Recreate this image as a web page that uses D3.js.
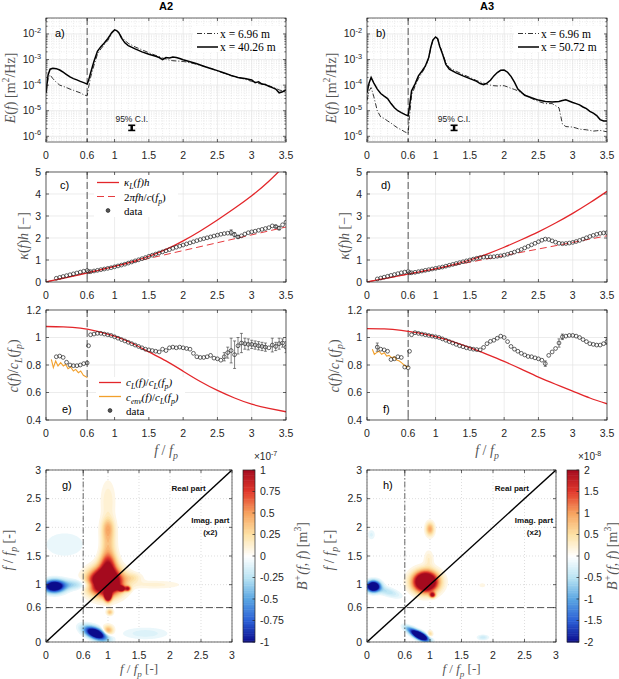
<!DOCTYPE html>
<html><head><meta charset="utf-8">
<script src="https://cdn.jsdelivr.net/npm/d3@7"></script>
<style>
body{margin:0;background:#fff}
svg{display:block;font-family:"Liberation Sans",Arial,sans-serif}
</style></head><body>
<svg id="fig" width="619" height="679"></svg>
<script>
// ---------- data ----------
var specF = [0,0.03,0.06,0.1,0.15,0.2,0.25,0.3,0.35,0.4,0.45,0.5,0.55,0.6,0.62,0.65,0.7,0.75,0.8,0.85,0.9,0.93,0.96,1.0,1.03,1.06,1.1,1.15,1.2,1.3,1.4,1.5,1.6,1.65,1.7,1.75,1.8,1.85,1.9,1.95,2.0,2.05,2.1,2.15,2.2,2.3,2.4,2.5,2.6,2.7,2.8,2.85,2.9,3.0,3.05,3.1,3.15,3.2,3.25,3.3,3.35,3.4,3.45,3.5];
var eA2near = [5e-5,1.8e-4,2.5e-4,1.8e-4,1.3e-4,1.0e-4,9e-5,8e-5,7e-5,6.3e-5,5.6e-5,5e-5,4.2e-5,3.8e-5,8e-5,2e-4,6e-4,1.6e-3,2.6e-3,3.8e-3,5.5e-3,7.5e-3,1.05e-2,1.35e-2,1.3e-2,1.1e-2,8e-3,5.5e-3,4.3e-3,3.1e-3,2.4e-3,1.85e-3,1.45e-3,1.3e-3,1.15e-3,1.05e-3,9.5e-4,9e-4,8.8e-4,8.6e-4,8.4e-4,8e-4,7.5e-4,7e-4,6.5e-4,5.5e-4,4.6e-4,3.6e-4,2.9e-4,2.3e-4,2e-4,1.85e-4,1.7e-4,1.4e-4,1.3e-4,1.15e-4,1.1e-4,1.0e-4,9.5e-5,8.5e-5,7.5e-5,6.5e-5,6e-5,5.5e-5];
var eA2far = [5e-5,2.5e-4,4.2e-4,4.6e-4,4.4e-4,3.9e-4,3.2e-4,2.6e-4,2.1e-4,1.8e-4,1.6e-4,1.4e-4,1.25e-4,1.1e-4,1.5e-4,3e-4,8.5e-4,2.1e-3,3.2e-3,4.4e-3,6.5e-3,8.5e-3,1.15e-2,1.45e-2,1.35e-2,1.15e-2,7e-3,4.5e-3,3.5e-3,2.6e-3,2.0e-3,1.6e-3,1.35e-3,1.2e-3,1.0e-3,1.2e-3,1.15e-3,1.25e-3,1.2e-3,1.1e-3,9.8e-4,9e-4,8.2e-4,7.5e-4,6.8e-4,5.5e-4,4.5e-4,3.7e-4,3.0e-4,2.4e-4,2.0e-4,1.9e-4,1.8e-4,1.6e-4,1.25e-4,1.35e-4,1.1e-4,1.05e-4,9e-5,8e-5,7e-5,5e-5,5.5e-5,6.5e-5];
var eA3near = [2.5e-5,6e-5,8e-5,3.5e-5,1e-5,5.7e-6,5e-6,4e-6,3.3e-6,2.6e-6,2.1e-6,1.8e-6,1.5e-6,1.3e-6,6e-6,4e-5,9e-5,1.8e-4,3e-4,5e-4,1.1e-3,2.8e-3,5.5e-3,7.5e-3,6.5e-3,3.5e-3,1.8e-3,7.5e-4,4.8e-4,3.5e-4,2.6e-4,2e-4,1.5e-4,1.35e-4,1.2e-4,1.1e-4,1e-4,9.5e-5,9.3e-5,9.5e-5,9.5e-5,8.5e-5,7.5e-5,6.8e-5,6e-5,4.2e-5,3e-5,2.3e-5,1.9e-5,1.9e-5,1.3e-5,3e-6,2.4e-6,2.3e-6,2.1e-6,1.9e-6,1.85e-6,1.8e-6,1.7e-6,1.6e-6,1.65e-6,1.7e-6,1.6e-6,1.5e-6];
var eA3far = [5e-5,1.2e-4,2e-4,1.2e-4,7e-5,4.7e-5,3.7e-5,3e-5,1.9e-5,1.3e-5,1e-5,8.4e-6,7.2e-6,6.3e-6,1.5e-5,6e-5,1.1e-4,2.3e-4,3.5e-4,5.5e-4,1.2e-3,3e-3,5.8e-3,7.6e-3,6.5e-3,3.3e-3,1.7e-3,6.5e-4,4.2e-4,3e-4,2.3e-4,1.8e-4,1.4e-4,1.15e-4,1.05e-4,1.2e-4,1.55e-4,2.3e-4,3.1e-4,3.8e-4,3.9e-4,3.2e-4,2.2e-4,1.3e-4,7e-5,4e-5,3.2e-5,2.6e-5,2.3e-5,2.2e-5,2.3e-5,2.5e-5,2.7e-5,2.1e-5,1.9e-5,1.7e-5,1.4e-5,1.2e-5,9.5e-6,8e-6,6.5e-6,4.5e-6,4e-6,4e-6];

// smooth curves sampled every 0.25 in f/fp
var curveF = [0,0.25,0.5,0.75,1,1.25,1.5,1.75,2,2.25,2.5,2.75,3,3.25,3.5];
var kapLA2 = [0,0.17,0.34,0.52,0.71,0.92,1.17,1.48,1.87,2.32,2.82,3.35,3.92,4.58,5.35];
var kapLA3 = [0,0.15,0.3,0.45,0.6,0.78,1.0,1.27,1.58,1.92,2.28,2.68,3.12,3.6,4.12];
var cLA2 = [1.08,1.077,1.068,1.045,1.01,0.96,0.895,0.83,0.755,0.68,0.615,0.56,0.515,0.485,0.46];
var cLA3 = [1.064,1.062,1.052,1.033,1.006,0.97,0.926,0.877,0.826,0.77,0.712,0.66,0.61,0.56,0.518];
var lineF = [0, 3.5];
var kapCA2 = [0, 2.5];
var kapCA3 = [0, 2.1];

// measured points: below 0.6 and above 0.6
var lowF = d3.range(0.15, 0.601, 0.05);
var highF = [0.62].concat(d3.range(0.65, 3.501, 0.05));
var kapA2Low = [0.17,0.21,0.25,0.29,0.33,0.37,0.41,0.45,0.49,0.52];
var kapA2High = [0.47,0.47,0.5,0.53,0.56,0.59,0.62,0.65,0.69,0.73,0.77,0.81,0.86,0.91,0.96,1.01,1.06,1.11,1.17,1.22,1.27,1.32,1.37,1.42,1.47,1.53,1.58,1.63,1.68,1.73,1.78,1.83,1.88,1.93,1.97,2.01,2.05,2.09,2.13,2.17,2.2,2.22,2.25,2.15,2.05,2.1,2.18,2.24,2.28,2.31,2.35,2.39,2.43,2.47,2.55,2.52,2.45,2.6,2.72];
var kapA3Low = [0.14,0.18,0.22,0.26,0.3,0.34,0.38,0.42,0.45,0.48];
var kapA3High = [0.42,0.42,0.44,0.47,0.5,0.53,0.56,0.59,0.62,0.65,0.68,0.72,0.76,0.8,0.84,0.88,0.92,0.96,1.0,1.04,1.08,1.11,1.13,1.14,1.14,1.15,1.17,1.19,1.22,1.26,1.31,1.36,1.42,1.48,1.55,1.62,1.69,1.76,1.83,1.9,1.95,1.93,1.87,1.81,1.76,1.74,1.75,1.77,1.8,1.84,1.89,1.95,2.01,2.07,2.12,2.17,2.21,2.23,2.24];
var cA2Low = [0.86,0.865,0.855,0.82,0.8,0.795,0.795,0.8,0.81,0.815];
var cA2High = [0.94,1.02,1.025,1.03,1.03,1.025,1.02,1.015,1.005,0.995,0.985,0.975,0.965,0.955,0.945,0.935,0.925,0.915,0.91,0.905,0.9,0.895,0.915,0.905,0.925,0.93,0.925,0.93,0.925,0.92,0.915,0.885,0.86,0.855,0.855,0.86,0.87,0.85,0.845,0.835,0.86,0.89,0.905,0.875,0.94,0.96,0.955,0.95,0.95,0.945,0.94,0.935,0.93,0.925,0.945,0.935,0.955,0.96,0.93];
var cA3Low = [0.93,0.915,0.91,0.9,0.84,0.845,0.86,0.855,0.785,0.78];
var cA3High = [0.9,1.02,1.035,1.03,1.025,1.02,1.015,1.01,1.005,1.0,0.99,0.98,0.97,0.96,0.95,0.94,0.933,0.925,0.92,0.915,0.912,0.91,0.928,0.955,0.972,0.98,0.995,1.01,1.0,0.97,0.935,0.915,0.9,0.885,0.873,0.862,0.86,0.852,0.845,0.835,0.81,0.87,0.895,0.92,0.96,1.005,1.01,1.015,1.015,1.01,1.0,0.985,0.97,0.955,0.95,0.945,0.945,0.955,0.97];
// error bars: [f, half-width]
var errKapA2 = [[2.7,0.12],[2.75,0.1],[2.8,0.06],[3.35,0.06],[3.4,0.08]];
var errCA2 = [[2.6,0.03],[2.65,0.04],[2.7,0.09],[2.75,0.1],[2.8,0.06],[2.85,0.07],[2.9,0.04],[2.95,0.04],[3.0,0.03],[3.05,0.03],[3.1,0.03],[3.15,0.03],[3.2,0.03],[3.3,0.05],[3.35,0.03],[3.4,0.04],[3.45,0.03],[3.5,0.04]];
var errCA3Low = [[0.15,0.03]];
var errCA3 = [[2.6,0.02],[2.8,0.03],[2.85,0.02],[3.5,0.02]];
// envelope speed below 0.6 fp
var envFA2 = [0.078,0.107,0.141,0.175,0.214,0.253,0.287,0.321,0.36,0.399,0.433,0.472,0.506,0.545,0.583,0.603];
var envA2 = [0.841,0.781,0.829,0.793,0.817,0.793,0.805,0.773,0.785,0.756,0.768,0.744,0.756,0.725,0.715,0.708];
var envFA3 = [0.078,0.107,0.141,0.175,0.214,0.253,0.287,0.321,0.36,0.399,0.433,0.472,0.506,0.545,0.583,0.603];
var envA3 = [0.914,0.878,0.89,0.9,0.878,0.89,0.865,0.87,0.853,0.86,0.836,0.829,0.815,0.798,0.785,0.79];

// bispectrum features: [fx, fy, amplitude (colorbar units), sx, sy, angle deg]
var bisA2 = [
  [0.96,1.05,2.2,0.17,0.15,0],[1.0,1.35,0.8,0.09,0.15,0],[1.0,1.75,0.35,0.08,0.2,0],[1.0,2.0,0.3,0.07,0.12,0],
  [1.0,2.45,0.15,0.08,0.25,0],[1.1,0.98,1.3,0.035,0.035,0],[1.22,0.93,1.2,0.035,0.03,0],[1.32,0.93,0.9,0.03,0.03,0],
  [1.0,0.8,1.5,0.035,0.06,0],[0.93,0.93,-0.6,0.04,0.04,0],[1.03,0.52,0.4,0.035,0.035,0],[1.0,0.2,0.5,0.06,0.06,0],
  [1.4,1.12,0.2,0.1,0.06,0],[1.75,1.0,0.12,0.3,0.05,0],[0.13,0.97,-1.5,0.11,0.07,0],[0.42,1.0,-0.3,0.2,0.06,0],
  [0.75,1.0,-0.15,0.12,0.05,0],[0.3,1.7,-0.08,0.3,0.2,0],[0.8,0.15,-1.6,0.13,0.06,-25],[1.6,0.15,-0.14,0.25,0.07,0]
];
var bisA3 = [
  [0.93,1.05,2.0,0.13,0.12,0],[1.04,0.82,1.0,0.03,0.03,0],[1.0,1.97,0.5,0.045,0.08,0],[0.98,1.45,0.15,0.05,0.1,0],
  [1.0,0.14,0.3,0.03,0.04,0],[1.83,0.99,0.1,0.04,0.03,0],[0.1,0.97,-1.8,0.07,0.06,0],[0.32,0.88,-0.25,0.15,0.05,-20],
  [0.84,0.11,-2.0,0.1,0.04,-30],[0.68,0.22,-0.4,0.08,0.035,-30],[1.84,0.08,-0.2,0.06,0.03,0],[0.07,1.87,-0.12,0.04,0.06,0]
];

var xTicksA = [0,0.6,1,1.5,2,2.5,3,3.5];
var xTicksG = [0,0.6,1,1.5,2,2.5,3];
var cbTicksA2 = [-1,-0.75,-0.5,-0.25,0,0.25,0.5,0.75,1];
var cbTicksA3 = [-2,-1.5,-1,-0.5,0,0.5,1,1.5,2];
var cmapStops = ['#0b0b8c','#2b5fd6','#5aa5e2','#b9e4f3','#ffffff','#fde2a6','#f7a35f','#e2392c','#a50a1e'];

// ---------- drawing ----------
var svg = d3.select('#fig');
var ink = '#262626';
var serif = '"Liberation Serif","DejaVu Serif",serif';
var red = '#e3262a', orange = '#f2a02c';
var labFs = 14;
var clipN = 0;

function rich(t, str, fs) {
  var cur = 0, ital = false;
  str.split(/([_^]\{[^}]*\}|~)/).forEach(function(p) {
    if (!p) return;
    if (p === '~') { ital = !ital; return; }
    var m = p.match(/^([_^])\{([^}]*)\}$/);
    var target = m ? (m[1] === '_' ? 0.28 * fs : -0.42 * fs) : 0;
    var ts = t.append('tspan').attr('dy', target - cur).text(m ? m[2] : p)
      .attr('font-style', ital ? 'italic' : 'normal');
    if (m) ts.attr('font-size', fs * 0.7);
    cur = target;
  });
  return t;
}

function makeAxes(p) {
  var xs = d3.scaleLinear().domain(p.xdom).range([p.x0, p.x1]);
  var ys = (p.log ? d3.scaleLog() : d3.scaleLinear()).domain(p.ydom).range([p.y1, p.y0]);
  var root = svg.append('g');
  var grid = root.append('g').attr('fill', 'none');
  var minorStyle = function(s) { s.attr('stroke', '#dedede').attr('stroke-width', 0.6).attr('stroke-dasharray', '1,1.5'); };
  var majorStyle = function(s) {
    s.attr('stroke', p.dotGrid ? '#d0d0d0' : '#e4e4e4').attr('stroke-width', 0.7)
     .attr('stroke-dasharray', p.dotGrid ? '1,2' : null);
  };
  grid.selectAll('.mx').data(p.minorX || []).enter().append('line')
    .attr('x1', xs).attr('x2', xs).attr('y1', p.y0).attr('y2', p.y1).call(minorStyle);
  grid.selectAll('.my').data(p.minorY || []).enter().append('line')
    .attr('y1', ys).attr('y2', ys).attr('x1', p.x0).attr('x2', p.x1).call(minorStyle);
  grid.selectAll('.gx').data(p.xticks).enter().append('line')
    .attr('x1', xs).attr('x2', xs).attr('y1', p.y0).attr('y2', p.y1).call(majorStyle);
  grid.selectAll('.gy').data(p.yticks).enter().append('line')
    .attr('y1', ys).attr('y2', ys).attr('x1', p.x0).attr('x2', p.x1).call(majorStyle);

  var id = 'clip' + (clipN++);
  svg.append('clipPath').attr('id', id).append('rect')
    .attr('x', p.x0).attr('y', p.y0).attr('width', p.x1 - p.x0).attr('height', p.y1 - p.y0);
  var plot = root.append('g').attr('clip-path', 'url(#' + id + ')');
  var top = root.append('g');

  var frame = root.append('g').attr('stroke', ink).attr('stroke-width', 0.7).attr('fill', 'none');
  frame.append('rect').attr('x', p.x0).attr('y', p.y0).attr('width', p.x1 - p.x0).attr('height', p.y1 - p.y0);
  var tl = 3;
  p.xticks.forEach(function(v) {
    frame.append('line').attr('x1', xs(v)).attr('x2', xs(v)).attr('y1', p.y1).attr('y2', p.y1 - tl);
    frame.append('line').attr('x1', xs(v)).attr('x2', xs(v)).attr('y1', p.y0).attr('y2', p.y0 + tl);
  });
  p.yticks.forEach(function(v) {
    frame.append('line').attr('y1', ys(v)).attr('y2', ys(v)).attr('x1', p.x0).attr('x2', p.x0 + tl);
    frame.append('line').attr('y1', ys(v)).attr('y2', ys(v)).attr('x1', p.x1).attr('x2', p.x1 - tl);
  });
  (p.minorY || []).forEach(function(v) {
    frame.append('line').attr('y1', ys(v)).attr('y2', ys(v)).attr('x1', p.x0).attr('x2', p.x0 + 1.6);
    frame.append('line').attr('y1', ys(v)).attr('y2', ys(v)).attr('x1', p.x1).attr('x2', p.x1 - 1.6);
  });

  var labs = root.append('g').attr('fill', ink).attr('font-size', 10.5);
  labs.selectAll('.xl').data(p.xticks).enter().append('text')
    .attr('x', xs).attr('y', p.y1 + 17).attr('text-anchor', 'middle').text(function(d) { return String(d); });
  labs.selectAll('.yl').data(p.yticks).enter().append('text')
    .attr('x', p.x0 - 5).attr('y', function(d) { return ys(d) + 3.5; }).attr('text-anchor', 'end')
    .each(function(d) {
      var t = d3.select(this);
      if (p.log) rich(t, '10^{' + Math.round(Math.log10(d)) + '}', 10.5);
      else t.text(String(d));
    });
  if (p.ylabel) {
    var yl = root.append('text').attr('transform', 'translate(' + p.ylabel[1] + ',' + p.ylabel[2] + ') rotate(-90)')
      .attr('text-anchor', 'middle').attr('font-family', serif).attr('font-size', labFs).attr('fill', '#555');
    rich(yl, p.ylabel[0], labFs);
  }
  if (p.xlabel) {
    var xfs = p.xlabel[2] || labFs;
    var xl = root.append('text').attr('x', (p.x0 + p.x1) / 2).attr('y', p.xlabel[1])
      .attr('text-anchor', 'middle').attr('font-family', serif).attr('font-size', xfs).attr('fill', '#555');
    rich(xl, p.xlabel[0], xfs);
  }
  root.append('text').attr('x', p.tag[1]).attr('y', p.tag[2]).attr('font-size', 11).attr('fill', '#000').text(p.tag[0]);
  return {xs: xs, ys: ys, plot: plot, top: top, p: p};
}

function vline06(ax, dash) {
  ax.plot.append('line').attr('x1', ax.xs(0.6)).attr('x2', ax.xs(0.6))
    .attr('y1', ax.p.y0).attr('y2', ax.p.y1)
    .attr('stroke', '#555').attr('stroke-width', 1).attr('stroke-dasharray', dash || '7,3');
}

function pathOf(ax, xsArr, ysArr, curve) {
  return d3.line().x(function(d, i) { return ax.xs(xsArr[i]); }).y(function(d) { return ax.ys(d); })
    .curve(curve || d3.curveLinear)(ysArr);
}

var minorX = d3.range(1, 35).map(function(i) { return i / 10; }).filter(function(v) { return xTicksA.indexOf(v) < 0; });
var minorYLog = [];
[-7, -6, -5, -4, -3, -2].forEach(function(k) {
  d3.range(2, 10).forEach(function(m) {
    var v = m * Math.pow(10, k);
    if (v > 6e-7 && v < 4.2e-2) minorYLog.push(v);
  });
});

function specPanel(x0, near, far, farLabel, tag, title, ciF, ylx) {
  var ax = makeAxes({x0: x0, x1: x0 + 240, y0: 18, y1: 142, xdom: [0, 3.5], ydom: [6e-7, 4.2e-2], log: true,
    xticks: xTicksA, yticks: [1e-6, 1e-5, 1e-4, 1e-3, 1e-2], minorX: minorX, minorY: minorYLog,
    ylabel: ['~E~(~f~) [m^{2}/Hz]', ylx, 88], tag: [tag, x0 + 9, 37]});
  svg.append('text').attr('x', x0 + 120).attr('y', 10).attr('text-anchor', 'middle')
    .attr('font-weight', 'bold').attr('font-size', 11).text(title);
  vline06(ax);
  ax.plot.append('path').attr('d', pathOf(ax, specF, near)).attr('fill', 'none')
    .attr('stroke', '#000').attr('stroke-width', 0.8).attr('stroke-dasharray', '5,2,1,2');
  ax.plot.append('path').attr('d', pathOf(ax, specF, far)).attr('fill', 'none')
    .attr('stroke', '#000').attr('stroke-width', 1.5);
  // 95% confidence interval
  var cx = ax.xs(ciF);
  ax.top.append('text').attr('x', cx).attr('y', ax.ys(3.5e-6)).attr('text-anchor', 'middle')
    .attr('font-size', 8.5).attr('fill', '#222').text('95% C.I.');
  var ci = ax.top.append('g').attr('stroke', '#000');
  ci.append('line').attr('x1', cx).attr('x2', cx).attr('y1', ax.ys(2.7e-6)).attr('y2', ax.ys(1.7e-6)).attr('stroke-width', 2.5);
  [2.7e-6, 1.7e-6].forEach(function(v) {
    ci.append('line').attr('x1', cx - 3.5).attr('x2', cx + 3.5).attr('y1', ax.ys(v)).attr('y2', ax.ys(v)).attr('stroke-width', 1.6);
  });
  // legend
  var lg = ax.top.append('g').attr('font-family', serif).attr('font-size', 11.5);
  var lx = x0 + 147;
  lg.append('rect').attr('x', lx).attr('y', 26).attr('width', 91).attr('height', 26).attr('fill', '#fff');
  lg.append('line').attr('x1', lx + 4).attr('x2', lx + 25).attr('y1', 33.5).attr('y2', 33.5)
    .attr('stroke', '#000').attr('stroke-width', 0.8).attr('stroke-dasharray', '5,2,1,2');
  lg.append('line').attr('x1', lx + 4).attr('x2', lx + 25).attr('y1', 47).attr('y2', 47)
    .attr('stroke', '#000').attr('stroke-width', 1.5);
  lg.append('text').attr('x', lx + 27).attr('y', 37.5).text('x = 6.96 m');
  lg.append('text').attr('x', lx + 27).attr('y', 51).text(farLabel);
  return ax;
}

function dataPoints(ax, fArr, vArr, errs) {
  var g = ax.plot.append('g');
  (errs || []).forEach(function(e) {
    var i = fArr.findIndex(function(f) { return Math.abs(f - e[0]) < 1e-6; });
    if (i < 0) return;
    var x = ax.xs(fArr[i]), y0 = ax.ys(vArr[i] - e[1]), y1 = ax.ys(vArr[i] + e[1]);
    g.append('line').attr('x1', x).attr('x2', x).attr('y1', y0).attr('y2', y1).attr('stroke', '#333').attr('stroke-width', 0.6);
    [y0, y1].forEach(function(y) {
      g.append('line').attr('x1', x - 1.5).attr('x2', x + 1.5).attr('y1', y).attr('y2', y).attr('stroke', '#333').attr('stroke-width', 0.6);
    });
  });
  g.selectAll('circle').data(vArr).enter().append('circle')
    .attr('cx', function(d, i) { return ax.xs(fArr[i]); }).attr('cy', function(d) { return ax.ys(d); })
    .attr('r', 1.9).attr('fill', 'none').attr('stroke', '#222').attr('stroke-width', 0.7);
}

function kapPanel(x0, kapL, kapC, low, high, errs, tag, legend) {
  var ax = makeAxes({x0: x0, x1: x0 + 240, y0: 172, y1: 282, xdom: [0, 3.5], ydom: [0, 5],
    xticks: xTicksA, yticks: [0, 1, 2, 3, 4, 5],
    ylabel: ['~κ~(~f~)~h~ [−]', x0 - 18, 236], tag: [tag, x0 + 14, 189]});
  vline06(ax);
  ax.plot.append('path').attr('d', pathOf(ax, curveF, kapL, d3.curveNatural)).attr('fill', 'none')
    .attr('stroke', red).attr('stroke-width', 1.3);
  ax.plot.append('path').attr('d', pathOf(ax, lineF, kapC)).attr('fill', 'none')
    .attr('stroke', red).attr('stroke-width', 0.9).attr('stroke-dasharray', '7,4');
  dataPoints(ax, lowF, low);
  dataPoints(ax, highF, high, errs);
  if (legend) {
    var lg = ax.top.append('g').attr('font-family', serif).attr('font-size', 11);
    lg.append('rect').attr('x', x0 + 48).attr('y', 175).attr('width', 84).attr('height', 42).attr('fill', '#fff');
    lg.append('line').attr('x1', x0 + 51).attr('x2', x0 + 73).attr('y1', 182.5).attr('y2', 182.5).attr('stroke', red).attr('stroke-width', 1.3);
    lg.append('line').attr('x1', x0 + 51).attr('x2', x0 + 73).attr('y1', 196.5).attr('y2', 196.5).attr('stroke', red)
      .attr('stroke-width', 0.9).attr('stroke-dasharray', '7,4');
    lg.append('circle').attr('cx', x0 + 62).attr('cy', 210.5).attr('r', 1.9).attr('fill', '#555').attr('stroke', '#222').attr('stroke-width', 0.7);
    rich(lg.append('text').attr('x', x0 + 78).attr('y', 186), '~κ_{L}(f)h~', 11);
    rich(lg.append('text').attr('x', x0 + 78).attr('y', 200.5), '2~πfh~/~c~(~f_{p}~)', 11);
    lg.append('text').attr('x', x0 + 78).attr('y', 214.5).text('data');
  }
  return ax;
}

function cPanel(x0, cL, envF, env, low, high, errs, lowErrs, tag, legend) {
  var ax = makeAxes({x0: x0, x1: x0 + 240, y0: 310, y1: 420, xdom: [0, 3.5], ydom: [0.4, 1.2],
    xticks: xTicksA, yticks: [0.4, 0.6, 0.8, 1, 1.2],
    ylabel: ['~c~(~f~)/~c_{L}~(~f_{p}~)', x0 - 28, 366], xlabel: ['~f~ / ~f_{p}~', 455],
    tag: [tag, x0 + 16, 413]});
  vline06(ax);
  ax.plot.append('path').attr('d', pathOf(ax, curveF, cL, d3.curveNatural)).attr('fill', 'none')
    .attr('stroke', red).attr('stroke-width', 1.3);
  ax.plot.append('path').attr('d', pathOf(ax, envF, env)).attr('fill', 'none')
    .attr('stroke', orange).attr('stroke-width', 1.1);
  dataPoints(ax, lowF, low, lowErrs);
  dataPoints(ax, highF, high, errs);
  if (legend) {
    var lg = ax.top.append('g').attr('font-family', serif).attr('font-size', 11);
    lg.append('rect').attr('x', x0 + 50).attr('y', 377).attr('width', 89).attr('height', 40).attr('fill', '#fff');
    lg.append('line').attr('x1', x0 + 53).attr('x2', x0 + 75).attr('y1', 382.5).attr('y2', 382.5).attr('stroke', red).attr('stroke-width', 1.3);
    lg.append('line').attr('x1', x0 + 53).attr('x2', x0 + 75).attr('y1', 396.5).attr('y2', 396.5).attr('stroke', orange).attr('stroke-width', 1.3);
    lg.append('circle').attr('cx', x0 + 64).attr('cy', 410.5).attr('r', 1.9).attr('fill', '#555').attr('stroke', '#222').attr('stroke-width', 0.7);
    rich(lg.append('text').attr('x', x0 + 80).attr('y', 386), '~c_{L}(f)~/~c_{L}(f_{p})~', 11);
    rich(lg.append('text').attr('x', x0 + 80).attr('y', 400.5), '~c_{env}(f)~/~c_{L}(f_{p})~', 11);
    lg.append('text').attr('x', x0 + 80).attr('y', 414.5).text('data');
  }
  return ax;
}

function bisPanel(x0, x1, blobs, cmax, cbTicks, expo, tag, cbLabX) {
  var ax = makeAxes({x0: x0, x1: x1, y0: 470, y1: 642, xdom: [0, 3], ydom: [0, 3], dotGrid: true,
    xticks: xTicksG, yticks: xTicksG,
    ylabel: ['~f~ / ~f_{p}~ [-]', x0 - 33, 550], xlabel: ['~f~ / ~f_{p}~ [-]', 673, 13],
    tag: [tag, x0 + 16, 489]});
  // evaluate the blob field on a grid and draw filled contours
  var n = 150, vals = new Float64Array(n * n);
  for (var j = 0; j < n; j++) {
    for (var i = 0; i < n; i++) {
      var fx = (i + 0.5) * 3 / n, fy = (j + 0.5) * 3 / n, s = 0;
      blobs.forEach(function(b) {
        var a = b[5] * Math.PI / 180, dx = fx - b[0], dy = fy - b[1];
        var u = dx * Math.cos(a) + dy * Math.sin(a), v = -dx * Math.sin(a) + dy * Math.cos(a);
        s += b[2] * Math.exp(-0.5 * (u * u / (b[3] * b[3]) + v * v / (b[4] * b[4])));
      });
      vals[j * n + i] = s;
    }
  }
  var cmap = d3.scaleLinear().domain(d3.range(-1, 1.001, 0.25)).range(cmapStops).clamp(true);
  var proj = d3.geoTransform({point: function(x, y) { this.stream.point(ax.xs(x * 3 / n), ax.ys(y * 3 / n)); }});
  var gp = d3.geoPath(proj);
  var levels = d3.range(0.05, 1.001, 0.05);
  var pos = d3.contours().size([n, n]).thresholds(levels)(vals);
  var neg = d3.contours().size([n, n]).thresholds(levels)(vals.map(function(v) { return -v; }));
  var cg = ax.plot.append('g');
  cg.selectAll('.pos').data(pos).enter().append('path').attr('d', gp)
    .attr('fill', function(d) { return cmap(Math.min(d.value + 0.025, 1)); });
  cg.selectAll('.neg').data(neg).enter().append('path').attr('d', gp)
    .attr('fill', function(d) { return cmap(-Math.min(d.value + 0.025, 1)); });
  // reference lines
  ax.plot.append('line').attr('x1', ax.xs(0.6)).attr('x2', ax.xs(0.6)).attr('y1', 470).attr('y2', 642)
    .attr('stroke', '#444').attr('stroke-width', 0.8).attr('stroke-dasharray', '6,2,1.5,2');
  ax.plot.append('line').attr('x1', x0).attr('x2', x1).attr('y1', ax.ys(0.6)).attr('y2', ax.ys(0.6))
    .attr('stroke', '#555').attr('stroke-width', 1).attr('stroke-dasharray', '7,3');
  ax.plot.append('line').attr('x1', ax.xs(0)).attr('y1', ax.ys(0)).attr('x2', ax.xs(3)).attr('y2', ax.ys(3))
    .attr('stroke', '#000').attr('stroke-width', 1.4);
  var notes = ax.top.append('g').attr('font-weight', 'bold').attr('font-size', 8).attr('text-anchor', 'middle').attr('fill', '#111');
  notes.append('text').attr('x', ax.xs(2.3)).attr('y', 491).text('Real part');
  notes.append('text').attr('x', ax.xs(2.65)).attr('y', 523).text('Imag. part');
  notes.append('text').attr('x', ax.xs(2.65)).attr('y', 535).text('(x2)');

  // colorbar
  var cbx = x1 + 11, cbw = 12;
  var cs = d3.scaleLinear().domain([-cmax, cmax]).range([642, 470]);
  var cb = svg.append('g');
  var steps = d3.range(-1, 1, 0.02);
  cb.selectAll('rect').data(steps).enter().append('rect')
    .attr('x', cbx).attr('width', cbw)
    .attr('y', function(d) { return cs((d + 0.02) * cmax); })
    .attr('height', function(d) { return cs(d * cmax) - cs((d + 0.02) * cmax) + 0.5; })
    .attr('fill', function(d) { return cmap(d + 0.01); });
  cb.append('rect').attr('x', cbx).attr('y', 470).attr('width', cbw).attr('height', 172)
    .attr('fill', 'none').attr('stroke', ink).attr('stroke-width', 0.7);
  cbTicks.forEach(function(v) {
    cb.append('line').attr('x1', cbx + cbw - 2.5).attr('x2', cbx + cbw).attr('y1', cs(v)).attr('y2', cs(v)).attr('stroke', ink).attr('stroke-width', 0.7);
    cb.append('text').attr('x', cbx + cbw + 5).attr('y', cs(v) + 3.5).attr('font-size', 10.5).attr('fill', ink).text(String(v));
  });
  rich(cb.append('text').attr('x', cbx + cbw - 1).attr('y', 460).attr('font-size', 10).attr('fill', ink), '×10^{' + expo + '}', 10);
  var bl = cb.append('text').attr('transform', 'translate(' + cbLabX + ',556) rotate(-90)')
    .attr('text-anchor', 'middle').attr('font-family', serif).attr('font-size', labFs).attr('fill', '#555');
  rich(bl, '~B^{+}(f~, ~f~) [m^{3}]', labFs);
  return ax;
}

specPanel(46, eA2near, eA2far, 'x = 40.26 m', 'a)', 'A2', 1.25, 15);
specPanel(367, eA3near, eA3far, 'x = 50.72 m', 'b)', 'A3', 1.27, 336);
kapPanel(46, kapLA2, kapCA2, kapA2Low, kapA2High, errKapA2, 'c)', true);
kapPanel(367, kapLA3, kapCA3, kapA3Low, kapA3High, [], 'd)', false);
cPanel(46, cLA2, envFA2, envA2, cA2Low, cA2High, errCA2, null, 'e)', true);
cPanel(367, cLA3, envFA3, envA3, cA3Low, cA3High, errCA3, errCA3Low, 'f)', false);
bisPanel(46, 232, bisA2, 1, cbTicksA2, -7, 'g)', 307);
bisPanel(367, 556, bisA3, 2, cbTicksA3, -8, 'h)', 617);
</script>
</body></html>
